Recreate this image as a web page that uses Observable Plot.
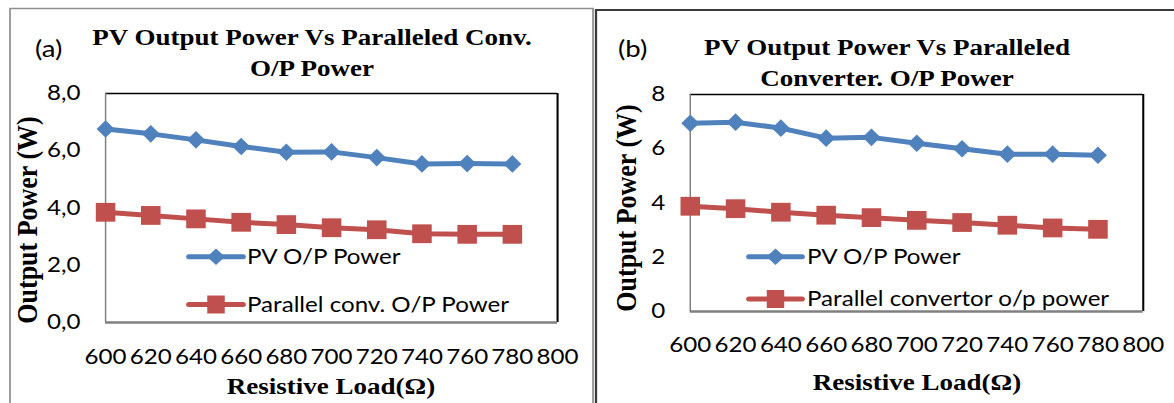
<!DOCTYPE html>
<html><head><meta charset="utf-8">
<script src="https://cdn.jsdelivr.net/npm/d3@7"></script>
<script src="https://cdn.jsdelivr.net/npm/@observablehq/plot@0.6"></script>
<style>
html,body{margin:0;padding:0;background:#fff;overflow:hidden;}
#wrap{position:relative;width:1020.87px;height:403px;transform:scaleX(1.15);transform-origin:0 0;}
.panel{position:absolute;top:0;}
#overlay{position:absolute;left:0;top:0;}
</style></head><body><div id="wrap"></div>
<script>
const S = 1.15; // horizontal stretch of the original figure

// ---- data ----
const loads = [600, 620, 640, 660, 680, 700, 720, 740, 760, 780];
const xTicks = [600, 620, 640, 660, 680, 700, 720, 740, 760, 780, 800];
const pvA   = [6.76, 6.59, 6.38, 6.15, 5.95, 5.96, 5.76, 5.54, 5.55, 5.54];
const convA = [3.85, 3.74, 3.62, 3.50, 3.42, 3.31, 3.24, 3.10, 3.08, 3.08];
const pvB   = [6.94, 6.98, 6.76, 6.39, 6.42, 6.20, 6.00, 5.80, 5.80, 5.76];
const convB = [3.88, 3.79, 3.66, 3.55, 3.46, 3.36, 3.28, 3.18, 3.08, 3.03];
const yTicksA = [0, 2, 4, 6, 8];
const yTicksB = [0, 2, 4, 6, 8];
const titleA = ["PV Output Power Vs Paralleled Conv.", "O/P Power"];
const titleB = ["PV Output Power Vs Paralleled", "Converter. O/P Power"];
const legendA = ["PV O/P Power", "Parallel conv. O/P Power"];
const legendB = ["PV O/P Power", "Parallel convertor o/p power"];
const yLabel = "Output Power (W)";
const xLabel = "Resistive Load(Ω)";
const BLUE = "#4F81BD", RED = "#C0504D";

function shape(kind, hw, hh) {
  return {draw(ctx) {
    if (kind === "diamond") {
      ctx.moveTo(0, -hh); ctx.lineTo(hw, 0); ctx.lineTo(0, hh); ctx.lineTo(-hw, 0); ctx.closePath();
    } else {
      ctx.moveTo(-hw, -hh); ctx.lineTo(hw, -hh); ctx.lineTo(hw, hh); ctx.lineTo(-hw, hh); ctx.closePath();
    }
  }};
}
const diamond = shape("diamond", 7.8, 8.8);
const square = shape("square", 8.5, 9.4);
const diamondL = shape("diamond", 7.8, 8.2);
const squareL = shape("square", 7.6, 9);

const wrap = document.getElementById("wrap");

function panel({left, width, mL, mR, mT, mB, pv, conv, yTicks, fmt, xPad}) {
  const data = loads.map((x, i) => ({x, pv: pv[i], conv: conv[i]}));
  const chart = Plot.plot({
    width, height: 403,
    marginLeft: mL, marginRight: mR, marginTop: mT, marginBottom: mB,
    style: {fontFamily: "Lato", fontSize: "21px", color: "#000", background: "transparent", overflow: "visible"},
    x: {domain: [600, 800]},
    y: {domain: [0, 8]},
    marks: [
      Plot.axisX(xTicks, {tickSize: 0, tickPadding: xPad, tickFormat: d => String(d), label: null, fill: "#000"}),
      Plot.axisY(yTicks, {tickSize: 0, tickPadding: 25 / S, tickFormat: fmt, label: null, fill: "#000"}),
      Plot.ruleY([8], {stroke: "#000", strokeWidth: 1.3}),
      Plot.ruleX([800], {stroke: "#000", strokeWidth: 1.8}),
      Plot.ruleX([600], {stroke: "#808080", strokeWidth: 1.3}),
      Plot.ruleY([0], {stroke: "#7f7f7f", strokeWidth: 2.5}),
      Plot.line(data, {x: "x", y: "pv", stroke: BLUE, strokeWidth: 5}),
      Plot.line(data, {x: "x", y: "conv", stroke: RED, strokeWidth: 5}),
      Plot.dot(data, {x: "x", y: "pv", symbol: diamond, fill: BLUE, r: 8}),
      Plot.dot(data, {x: "x", y: "conv", symbol: square, fill: RED, r: 8})
    ]
  });
  const div = document.createElement("div");
  div.className = "panel";
  div.style.left = left + "px";
  div.style.width = width + "px";
  div.appendChild(chart);
  wrap.appendChild(div);
}

panel({left: 0, width: 593 / S, mL: 105 / S, mR: (593 - 557) / S, mT: 93, mB: 403 - 322,
       pv: pvA, conv: convA, yTicks: yTicksA, fmt: d => d.toFixed(1).replace(".", ","), xPad: 27});
panel({left: 596 / S, width: (1174 - 596) / S, mL: (690 - 596) / S, mR: (1174 - 1143) / S, mT: 94, mB: 403 - 311,
       pv: pvB, conv: convB, yTicks: yTicksB, fmt: d => String(d), xPad: 26});

// ---- overlay: borders, titles, labels, legends ----
const W = 1174 / S;
const svg = d3.select(wrap).append("svg").attr("id", "overlay")
  .attr("width", W).attr("height", 403).attr("viewBox", `0 0 ${W} 403`);

svg.append("path").attr("d", `M${10 / S},403V8.5H${593 / S}V403`)
  .attr("fill", "none").attr("stroke", "#8f8f8f").attr("stroke-width", 1.5);
svg.append("path").attr("d", `M${596 / S},403V10H${W}`)
  .attr("fill", "none").attr("stroke", "#3a3a3a").attr("stroke-width", 2);

const serif = "'Liberation Serif', 'Times New Roman', serif";
function title(lines, cx, y0, y1) {
  [y0, y1].forEach((y, i) => svg.append("text").attr("x", cx).attr("y", y)
    .attr("text-anchor", "middle").attr("font-family", serif).attr("font-weight", "bold")
    .attr("font-size", 23.5).text(lines[i]));
}
title(titleA, 312 / S, 45, 76);
title(titleB, 887 / S, 55, 86);

svg.append("text").attr("x", 35 / S).attr("y", 57).attr("font-family", "Lato").attr("font-size", 24).text("(a)");
svg.append("text").attr("x", 618 / S).attr("y", 57).attr("font-family", "Lato").attr("font-size", 24).text("(b)");

function ylab(x, y) {
  svg.append("text").attr("transform", `translate(${x},${y}) rotate(-90)`)
    .attr("text-anchor", "middle").attr("font-family", serif).attr("font-weight", "bold")
    .attr("font-size", 26).text(yLabel);
}
ylab(37 / S, 220);
ylab(636 / S, 208);

function xlab(x, y) {
  svg.append("text").attr("x", x).attr("y", y).attr("text-anchor", "middle")
    .attr("font-family", serif).attr("font-weight", "bold").attr("font-size", 23.5).text(xLabel);
}
xlab(331 / S, 394);
xlab(917 / S, 390);

function legend(labels, x1, x2, xt, yB, yR) {
  const cx = (x1 + x2) / 2;
  [[yB, BLUE, diamondL, labels[0]], [yR, RED, squareL, labels[1]]].forEach(([y, c, sym, lab]) => {
    svg.append("line").attr("x1", x1).attr("x2", x2).attr("y1", y).attr("y2", y)
      .attr("stroke", c).attr("stroke-width", 5).attr("stroke-linecap", "round");
    svg.append("path").attr("transform", `translate(${cx},${y})`).attr("d", d3.symbol(sym)()).attr("fill", c);
    svg.append("text").attr("x", xt).attr("y", y + 7.5).attr("font-family", "Lato").attr("font-size", 21).text(lab);
  });
}
legend(legendA, 189 / S, 243 / S, 247 / S, 256.7, 304.5);
legend(legendB, 749 / S, 802 / S, 807 / S, 256.7, 299);
</script></body></html>
